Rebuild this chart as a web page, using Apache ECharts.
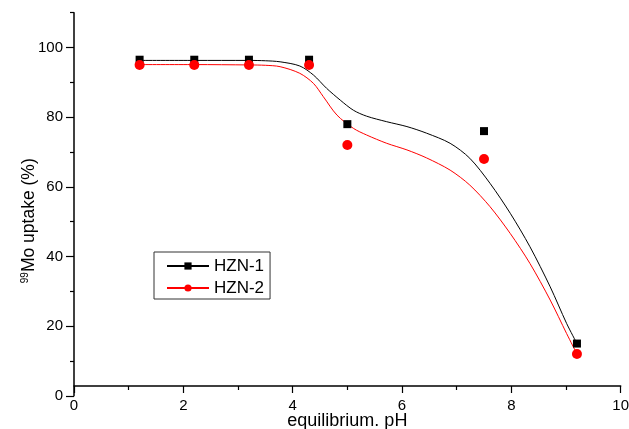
<!DOCTYPE html>
<html>
<head>
<meta charset="utf-8">
<script src="https://cdn.jsdelivr.net/npm/echarts@6/dist/echarts.min.js"></script>
<style>
html, body { margin: 0; padding: 0; background: #fff; }
#main { width: 629px; height: 429px; }
</style>
</head>
<body>
<div id="main"></div>
<script>
// measured points
var phPoints = [1.2, 2.2, 3.2, 4.3, 5.0, 7.5, 9.2];
var hzn1Points = [96.5, 96.5, 96.5, 96.5, 78, 76, 15];
var hzn2Points = [95, 95, 95, 95, 72, 68, 12];

// fitted curves
var fit1X = [1.2, 2.2, 3.2, 3.5, 3.77, 4.13, 4.38, 4.62, 4.87, 5.11, 5.35, 5.72, 6.09, 6.45, 6.88, 7.24, 7.61, 7.98, 8.34, 8.71, 9.01, 9.2];
var fit1Y = [96.3, 96.3, 96.3, 96.2, 95.9, 94.7, 92.1, 88.3, 84.9, 82.0, 80.3, 78.7, 77.3, 75.4, 72.5, 68.2, 61.0, 52.4, 42.8, 31.3, 20.8, 15.0];
var fit2X = [1.2, 2.2, 3.2, 3.5, 3.77, 4.13, 4.38, 4.56, 4.81, 5.11, 5.35, 5.72, 6.09, 6.45, 6.88, 7.24, 7.61, 7.98, 8.34, 8.71, 9.01, 9.2];
var fit2Y = [95.1, 95.1, 95.0, 94.9, 94.5, 92.6, 89.7, 85.9, 80.6, 76.8, 74.9, 72.5, 70.6, 68.3, 64.8, 60.5, 54.3, 46.6, 38.0, 27.5, 17.9, 12.0];

var yMajorTicks = [0, 20, 40, 60, 80, 100];
var yMinorTicks = [10, 30, 50, 70, 90, 110];

function pairs(xs, ys) {
    var out = [];
    for (var i = 0; i < xs.length; i++) {
        out.push([xs[i], ys[i]]);
    }
    return out;
}

var font = "'Liberation Sans', Arial, sans-serif";
var chart = echarts.init(document.getElementById('main'));

var option = {
    animation: false,
    backgroundColor: '#fff',
    textStyle: { fontFamily: font, color: '#000' },
    grid: { left: 74, right: 8.3, top: 12.7, bottom: 33.2, outerBoundsMode: 'none', containLabel: false },
    legend: {
        data: ['HZN-1', 'HZN-2'],
        orient: 'vertical',
        left: 154,
        top: 252,
        padding: [4, 6, 1, 12],
        itemGap: 2,
        itemWidth: 42,
        itemHeight: 9,
        borderColor: '#333',
        borderWidth: 1,
        textStyle: { fontFamily: font, fontSize: 17, lineHeight: 20, color: '#000' }
    },
    xAxis: {
        type: 'value',
        min: 0,
        max: 10,
        interval: 2,
        offset: -9.8,
        name: 'equilibrium. pH',
        nameLocation: 'middle',
        nameGap: 26,
        nameMoveOverlap: false,
        nameTextStyle: { fontFamily: font, fontSize: 18, color: '#000' },
        axisLine: { onZero: false, lineStyle: { color: '#000', width: 1.5 } },
        axisTick: { length: 7, lineStyle: { color: '#000', width: 1.2 } },
        minorTick: { show: true, splitNumber: 2, length: 4, lineStyle: { color: '#000', width: 1.2 } },
        axisLabel: { fontFamily: font, fontSize: 15, color: '#000', margin: 12 },
        splitLine: { show: false }
    },
    yAxis: [{
        type: 'value',
        position: 'left',
        min: 0,
        max: 110,
        interval: 20,
        name: '{sup|99}Mo uptake (%)',
        nameLocation: 'middle',
        nameGap: 36,
        nameMoveOverlap: false,
        nameTextStyle: {
            fontFamily: font, fontSize: 17.5, color: '#000',
            padding: [0, 33, 0, 0],
            rich: {
                sup: { fontFamily: font, fontSize: 10, verticalAlign: 'top', padding: [0, 0, 8, 0] }
            }
        },
        axisLine: { show: true, lineStyle: { color: '#000', width: 1.5 } },
        axisTick: { show: true, length: 8, customValues: yMajorTicks, lineStyle: { color: '#000', width: 1.2 } },
        axisLabel: { fontFamily: font, fontSize: 15, color: '#000', margin: 11, customValues: yMajorTicks },
        splitLine: { show: false }
    }, {
        type: 'value',
        position: 'left',
        offset: 0,
        min: 0,
        max: 110,
        interval: 10,
        axisLine: { show: false },
        axisTick: { show: true, length: 4, customValues: yMinorTicks, lineStyle: { color: '#000', width: 1.2 } },
        axisLabel: { show: false },
        splitLine: { show: false }
    }],
    series: [{
        name: 'HZN-1',
        type: 'line',
        data: pairs(fit1X, fit1Y),
        smooth: 0.3,
        showSymbol: false,
        symbol: 'rect',
        color: '#000',
        lineStyle: { color: '#000', width: 1 },
        z: 2
    }, {
        name: 'HZN-2',
        type: 'line',
        data: pairs(fit2X, fit2Y),
        smooth: 0.3,
        showSymbol: false,
        symbol: 'circle',
        color: '#ff0000',
        lineStyle: { color: '#ff0000', width: 1 },
        z: 2
    }, {
        name: 'HZN-1',
        type: 'scatter',
        data: pairs(phPoints, hzn1Points),
        symbol: 'rect',
        symbolSize: 8,
        itemStyle: { color: '#000', opacity: 1 },
        z: 3
    }, {
        name: 'HZN-2',
        type: 'scatter',
        data: pairs(phPoints, hzn2Points),
        symbol: 'circle',
        symbolSize: 10,
        itemStyle: { color: '#ff0000', opacity: 1 },
        z: 4
    }]
};

chart.setOption(option);
</script>
</body>
</html>
